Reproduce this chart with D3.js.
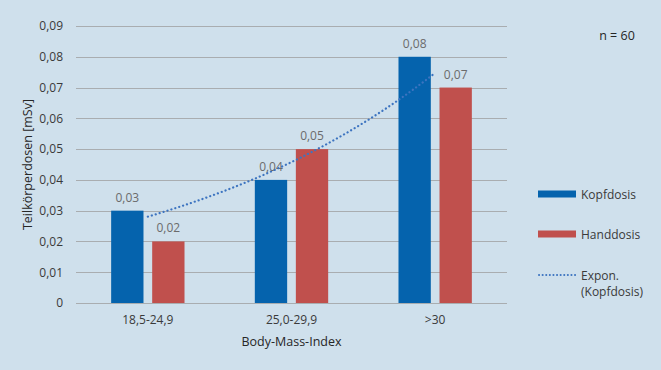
<!DOCTYPE html>
<html>
<head>
<meta charset="utf-8">
<script src="https://cdn.jsdelivr.net/npm/d3@7"></script>
<style>
  body { margin: 0; background: #cfe0ec; }
  svg { display: block; font-family: "Open Sans", sans-serif; }
</style>
</head>
<body>
<svg id="chart" width="661" height="370"></svg>
<script>
// Daten
const kategorien = ["18,5-24,9", "25,0-29,9", ">30"];
const kopfdosis = [0.03, 0.04, 0.08];
const handdosis = [0.02, 0.05, 0.07];
const yTicks = [0, 0.01, 0.02, 0.03, 0.04, 0.05, 0.06, 0.07, 0.08, 0.09];
const serien = ["Kopfdosis", "Handdosis"];

const farben = { Kopfdosis: "#0563ad", Handdosis: "#c0504d" };
const fmt = v => v === 0 ? "0" : d3.format(".2f")(v).replace(".", ",");

const svg = d3.select("#chart");
const width = 661, height = 370;
const margin = { top: 26, right: 154, bottom: 67, left: 76 };

svg.append("rect").attr("width", width).attr("height", height).attr("fill", "#cfe0ec");

const x = d3.scaleBand()
    .domain(kategorien)
    .range([margin.left, width - margin.right]);

const xInner = d3.scaleBand()
    .domain(serien)
    .range([0, x.bandwidth()])
    .paddingInner(0.212)
    .paddingOuter(0.857);

const y = d3.scaleLinear()
    .domain([0, 0.09])
    .range([height - margin.bottom, margin.top]);

// Gitterlinien
svg.append("g")
    .selectAll("line")
    .data(yTicks)
    .join("line")
    .attr("x1", margin.left)
    .attr("x2", width - margin.right)
    .attr("y1", d => Math.round(y(d)) + 0.5)
    .attr("y2", d => Math.round(y(d)) + 0.5)
    .attr("stroke", "#a9adb0")
    .attr("stroke-width", 1.2);

// Y-Achse Beschriftung
const yAxis = svg.append("g")
    .attr("transform", `translate(${margin.left},0)`)
    .call(d3.axisLeft(y).tickValues(yTicks).tickFormat(fmt).tickSize(0).tickPadding(13));
yAxis.select(".domain").remove();
yAxis.selectAll("text").style("font-size", "12px").attr("fill", "#3a3a3a").style("font-family", "Open Sans");

// X-Achse Beschriftung
const xAxis = svg.append("g")
    .attr("transform", `translate(0,${height - margin.bottom})`)
    .call(d3.axisBottom(x).tickSize(0).tickPadding(12));
xAxis.select(".domain").remove();
xAxis.selectAll("text").style("font-size", "12px").attr("fill", "#3a3a3a").style("font-family", "Open Sans");

// Balken
const daten = kategorien.map((k, i) => ({ label: k, Kopfdosis: kopfdosis[i], Handdosis: handdosis[i] }));

const gruppen = svg.append("g")
    .selectAll("g")
    .data(daten)
    .join("g")
    .attr("transform", d => `translate(${x(d.label)},0)`);

gruppen.selectAll("rect")
    .data(d => serien.map(s => ({ key: s, value: d[s] })))
    .join("rect")
    .attr("x", d => xInner(d.key))
    .attr("y", d => y(d.value))
    .attr("width", xInner.bandwidth())
    .attr("height", d => y(0) - y(d.value))
    .attr("fill", d => farben[d.key]);

gruppen.selectAll("text")
    .data(d => serien.map(s => ({ key: s, value: d[s] })))
    .join("text")
    .attr("x", d => xInner(d.key) + xInner.bandwidth() / 2)
    .attr("y", d => y(d.value) - 9)
    .attr("text-anchor", "middle")
    .style("font-size", "12px")
    .attr("fill", "#6b6b6b")
    .text(d => fmt(d.value));

// Exponentielle Trendlinie (Kopfdosis), Ausgleich wie in Excel
const xs = kopfdosis.map((d, i) => i + 1);
const lnY = kopfdosis.map(d => Math.log(d));
const mx = d3.mean(xs), my = d3.mean(lnY);
const b = d3.sum(xs, (v, i) => (v - mx) * (lnY[i] - my)) / d3.sum(xs, v => (v - mx) ** 2);
const a = my - b * mx;
const trend = d3.range(1, 3.001, 0.05).map(t => ({ t, v: Math.exp(a + b * t) }));
const xPos = t => x(kategorien[0]) + x.bandwidth() / 2 + (t - 1) * x.step();

svg.append("path")
    .datum(trend)
    .attr("d", d3.line().x(d => xPos(d.t)).y(d => y(d.v)))
    .attr("fill", "none")
    .attr("stroke", "#3d74c0")
    .attr("stroke-width", 2.2)
    .attr("stroke-dasharray", "0.1 4")
    .attr("stroke-linecap", "round");

// Achsentitel
svg.append("text")
    .attr("transform", `translate(32,${(margin.top + height - margin.bottom) / 2}) rotate(-90)`)
    .attr("text-anchor", "middle")
    .style("font-size", "12.5px")
    .attr("fill", "#262626")
    .text("Teilkörperdosen [mSv]");

svg.append("text")
    .attr("x", (margin.left + width - margin.right) / 2)
    .attr("y", 346)
    .attr("text-anchor", "middle")
    .style("font-size", "12.5px")
    .attr("fill", "#262626")
    .text("Body-Mass-Index");

svg.append("text")
    .attr("x", 617)
    .attr("y", 40)
    .attr("text-anchor", "middle")
    .style("font-size", "12.5px")
    .attr("fill", "#262626")
    .text("n = 60");

// Legende
const legende = svg.append("g").attr("transform", "translate(538,0)");
serien.forEach((s, i) => {
    const yy = 194 + i * 40;
    legende.append("rect").attr("x", 0).attr("y", yy - 3.5).attr("width", 38).attr("height", 7).attr("fill", farben[s]);
    legende.append("text").attr("x", 43).attr("y", yy + 4.5).style("font-size", "12px").attr("fill", "#3a3a3a").text(s);
});
legende.append("line")
    .attr("x1", 1).attr("x2", 38).attr("y1", 275).attr("y2", 275)
    .attr("stroke", "#3d74c0").attr("stroke-width", 2)
    .attr("stroke-dasharray", "0.1 3.5").attr("stroke-linecap", "round");
legende.append("text").attr("x", 43).attr("y", 279.5).style("font-size", "12px").attr("fill", "#3a3a3a").text("Expon.");
legende.append("text").attr("x", 43).attr("y", 295.5).style("font-size", "12px").attr("fill", "#3a3a3a").text("(Kopfdosis)");
</script>
</body>
</html>
